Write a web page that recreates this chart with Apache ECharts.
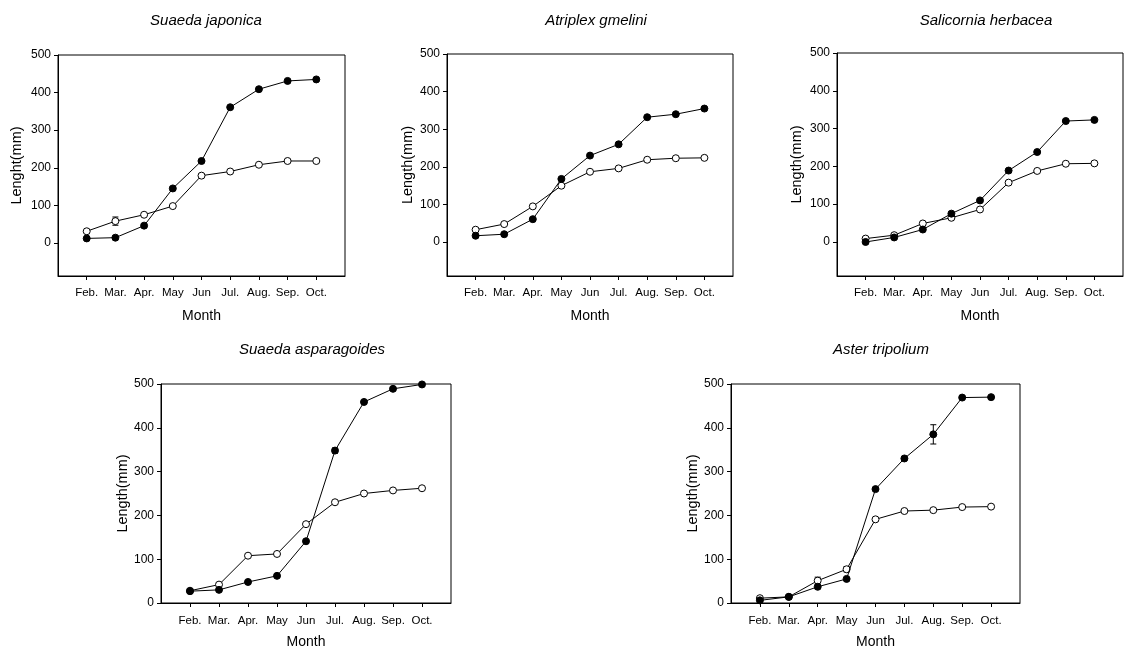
<!DOCTYPE html>
<html>
<head>
<meta charset="utf-8">
<script src="https://cdn.jsdelivr.net/npm/echarts@6/dist/echarts.min.js"></script>
<style>
  html, body { margin: 0; padding: 0; background: #fff; }
  #chart { width: 1128px; height: 647px; }
</style>
</head>
<body>
<div id="chart"></div>
<script>
// month categories (placed at x = 1..9 on a 0..10 axis)
const months = ['Feb.', 'Mar.', 'Apr.', 'May', 'Jun', 'Jul.', 'Aug.', 'Sep.', 'Oct.'];
const yTicks = [0, 100, 200, 300, 400, 500];

const titles = ['Suaeda japonica', 'Atriplex gmelini', 'Salicornia herbacea', 'Suaeda asparagoides', 'Aster tripolium'];
const yNames = ['Lenght(mm)', 'Length(mm)', 'Length(mm)', 'Length(mm)', 'Length(mm)'];

// filled circles / open circles
const japonicaFilled = [12, 14, 46, 145, 218, 361, 409, 431, 435];
const japonicaOpen = [31, 58, 75, 98, 179, 190, 208, 218, 218];
const gmeliniFilled = [17, 21, 61, 168, 230, 260, 332, 340, 355];
const gmeliniOpen = [33, 48, 95, 150, 187, 196, 219, 223, 224];
const herbaceaFilled = [0, 12, 33, 75, 110, 189, 238, 320, 323];
const herbaceaOpen = [9, 18, 49, 64, 86, 157, 188, 207, 208];
const asparagoidesFilled = [27, 30, 48, 62, 141, 348, 459, 489, 499];
const asparagoidesOpen = [28, 42, 108, 112, 180, 230, 250, 257, 262];
const tripoliumFilled = [6, 14, 37, 55, 260, 330, 385, 469, 470];
const tripoliumOpen = [11, 14, 51, 77, 191, 210, 212, 219, 220];

// error bar half-widths (0 = none visible)
const japonicaFilledErr = [0, 0, 0, 5, 0, 0, 0, 0, 0];
const japonicaOpenErr = [0, 11, 0, 0, 0, 0, 0, 0, 0];
const asparagoidesFilledErr = [0, 0, 0, 0, 0, 6, 0, 0, 0];
const tripoliumFilledErr = [0, 0, 0, 0, 0, 0, 22, 0, 0];
const tripoliumOpenErr = [0, 0, 8, 6, 0, 0, 0, 0, 0];

const filled = [japonicaFilled, gmeliniFilled, herbaceaFilled, asparagoidesFilled, tripoliumFilled];
const open = [japonicaOpen, gmeliniOpen, herbaceaOpen, asparagoidesOpen, tripoliumOpen];
const errs = [
  [0, japonicaFilled, japonicaFilledErr],
  [0, japonicaOpen, japonicaOpenErr],
  [3, asparagoidesFilled, asparagoidesFilledErr],
  [4, tripoliumFilled, tripoliumFilledErr],
  [4, tripoliumOpen, tripoliumOpenErr]
];

const panels = [
  { left: 58, top: 55, width: 287, height: 221, min: -88, nameGap: 34, cx: 201, ty: 8, lm: 11, xg: 33 },
  { left: 447, top: 54, width: 286, height: 222, min: -90, nameGap: 32, cx: 591, ty: 8, lm: 11, xg: 33 },
  { left: 837, top: 53, width: 286, height: 223, min: -90, nameGap: 33, cx: 981, ty: 8, lm: 11, xg: 33 },
  { left: 161, top: 384, width: 290, height: 219, min: 0, nameGap: 31, cx: 307, ty: 337, lm: 12, xg: 32 },
  { left: 731, top: 384, width: 289, height: 219, min: 0, nameGap: 30, cx: 876, ty: 337, lm: 12, xg: 32 }
];

const font = 'Liberation Sans';
const xVals = months.map((m, i) => i + 1);
const toPts = arr => arr.map((v, i) => [i + 1, v]);

const chart = echarts.init(document.getElementById('chart'));

const option = {
  backgroundColor: '#fff',
  animation: false,
  textStyle: { fontFamily: font, color: '#000' },
  title: panels.map((p, i) => ({
    text: titles[i],
    left: p.cx,
    top: p.ty,
    textAlign: 'center',
    textStyle: { fontFamily: font, fontStyle: 'italic', fontWeight: 'normal', fontSize: 15, color: '#000' }
  })),
  grid: panels.map(p => ({
    left: p.left, top: p.top, width: p.width, height: p.height,
    outerBoundsMode: 'none',
    containLabel: false,
    show: true, borderColor: '#000', borderWidth: 1, backgroundColor: 'transparent'
  })),
  xAxis: panels.map((p, i) => ({
    type: 'value',
    gridIndex: i,
    min: 0,
    max: 10,
    name: 'Month',
    nameLocation: 'middle',
    nameGap: p.xg,
    nameTextStyle: { fontFamily: font, fontSize: 14, color: '#000' },
    axisLine: { show: true, onZero: false, lineStyle: { color: '#000', width: 1 } },
    axisTick: { show: true, inside: false, length: 4, customValues: xVals, lineStyle: { color: '#000' } },
    axisLabel: {
      customValues: xVals,
      margin: p.lm,
      fontFamily: font,
      fontSize: 11.5,
      color: '#000',
      formatter: v => months[v - 1] || ''
    },
    splitLine: { show: false }
  })),
  yAxis: panels.map((p, i) => ({
    type: 'value',
    gridIndex: i,
    min: p.min,
    max: 500,
    name: yNames[i],
    nameLocation: 'middle',
    nameGap: p.nameGap,
    nameTextStyle: { fontFamily: font, fontSize: 14.5, color: '#000' },
    axisLine: { show: true, onZero: false, lineStyle: { color: '#000', width: 1 } },
    axisTick: { show: true, inside: false, length: 4, customValues: yTicks, lineStyle: { color: '#000' } },
    axisLabel: { customValues: yTicks, margin: 7, fontFamily: font, fontSize: 12, color: '#000' },
    splitLine: { show: false }
  })),
  series: []
};

errs.forEach(([g, vals, e]) => {
  option.series.push({
    type: 'custom',
    xAxisIndex: g,
    yAxisIndex: g,
    z: 1,
    data: vals.map((v, i) => [i + 1, v, e[i]]).filter(d => d[2] > 0),
    renderItem: (params, api) => {
      const x = api.value(0), y = api.value(1), err = api.value(2);
      const hi = api.coord([x, y + err]);
      const lo = api.coord([x, y - err]);
      const w = 3;
      return {
        type: 'group',
        children: [
          { type: 'line', shape: { x1: hi[0], y1: hi[1], x2: lo[0], y2: lo[1] }, style: { stroke: '#000', lineWidth: 1 } },
          { type: 'line', shape: { x1: hi[0] - w, y1: hi[1], x2: hi[0] + w, y2: hi[1] }, style: { stroke: '#000', lineWidth: 1 } },
          { type: 'line', shape: { x1: lo[0] - w, y1: lo[1], x2: lo[0] + w, y2: lo[1] }, style: { stroke: '#000', lineWidth: 1 } }
        ]
      };
    }
  });
});

panels.forEach((p, i) => {
  option.series.push({
    type: 'line',
    xAxisIndex: i,
    yAxisIndex: i,
    z: 3,
    data: toPts(filled[i]),
    symbol: 'circle',
    symbolSize: 7,
    lineStyle: { color: '#000', width: 1 },
    itemStyle: { color: '#000', borderColor: '#000', borderWidth: 1 }
  });
  option.series.push({
    type: 'line',
    xAxisIndex: i,
    yAxisIndex: i,
    z: 2,
    data: toPts(open[i]),
    symbol: 'circle',
    symbolSize: 7,
    showAllSymbol: true,
    lineStyle: { color: '#000', width: 1 },
    itemStyle: { color: '#fff', borderColor: '#000', borderWidth: 1 }
  });
});

chart.setOption(option);
</script>
</body>
</html>
